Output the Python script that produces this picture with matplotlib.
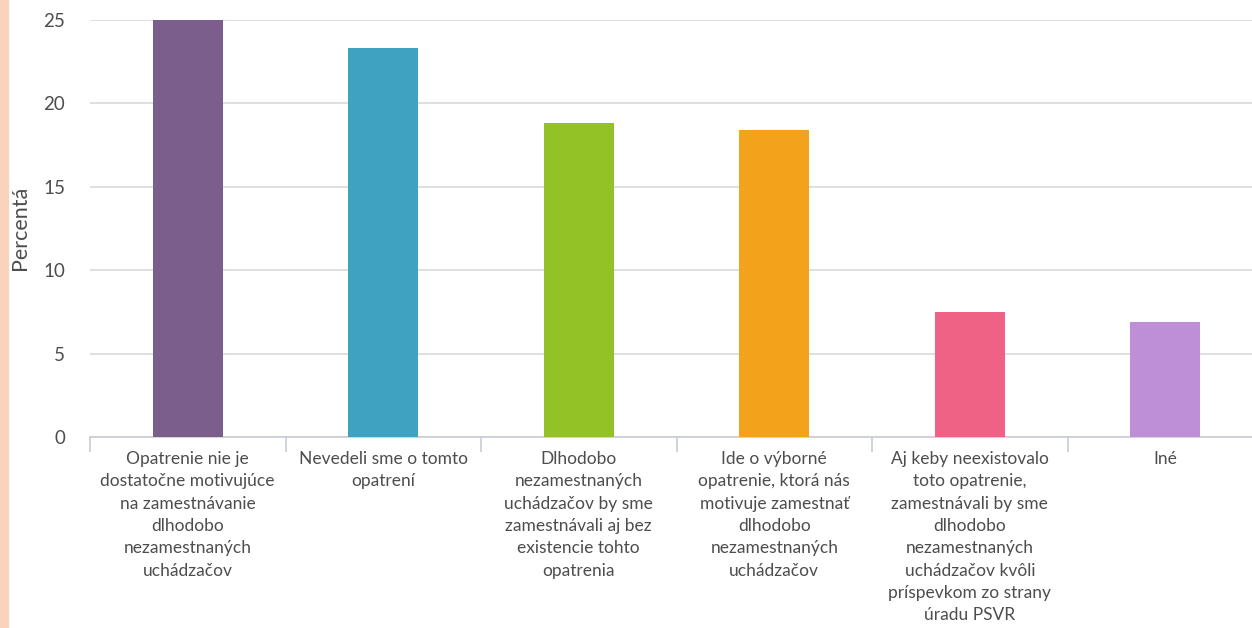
import numpy as np
import matplotlib.pyplot as plt
from matplotlib.patches import Rectangle

plt.rcParams['font.family'] = ['Lato', 'DejaVu Sans']

# Údaje
kategorie = [
    "Opatrenie nie je\ndostatočne motivujúce\nna zamestnávanie\ndlhodobo\nnezamestnaných\nuchádzačov",
    "Nevedeli sme o tomto\nopatrení",
    "Dlhodobo\nnezamestnaných\nuchádzačov by sme\nzamestnávali aj bez\nexistencie tohto\nopatrenia",
    "Ide o výborné\nopatrenie, ktorá nás\nmotivuje zamestnať\ndlhodobo\nnezamestnaných\nuchádzačov",
    "Aj keby neexistovalo\ntoto opatrenie,\nzamestnávali by sme\ndlhodobo\nnezamestnaných\nuchádzačov kvôli\npríspevkom zo strany\núradu PSVR",
    "Iné",
]
hodnoty = [25.0, 23.3, 18.8, 18.4, 7.5, 6.9]
farby = ["#7b5e8c", "#3fa2c0", "#93c227", "#f3a21c", "#ef6285", "#be8fd6"]
y_ticks = [0, 5, 10, 15, 20, 25]

W, H = 1252, 628
fig = plt.figure(figsize=(W/100, H/100), dpi=100)
ax = fig.add_axes([90/W, 1 - 437/H, 1173/W, 417/H])

x = np.arange(len(hodnoty))
ax.bar(x, hodnoty, width=0.36, color=farby, zorder=3)

ax.set_xlim(-0.5, len(hodnoty) - 0.5)
ax.set_ylim(0, 25)
ax.set_yticks(y_ticks)
ax.yaxis.grid(True, color="#d9d9d9", linewidth=1.2, zorder=0)
ax.set_axisbelow(True)

for s in ["top", "right", "left"]:
    ax.spines[s].set_visible(False)
ax.spines["bottom"].set_color("#c9ccd6")
ax.spines["bottom"].set_linewidth(1.2)

ax.set_xticks(x)
ax.set_xticklabels(kategorie, fontsize=12.5, color="#4d4d4d", linespacing=1.49, va="top")
ax.tick_params(axis="x", length=0, pad=10)
ax.set_xticks(np.arange(len(hodnoty)) - 0.5, minor=True)
ax.tick_params(axis="x", which="minor", length=11, color="#c9ccd6", width=1.2)
ax.tick_params(axis="y", length=0, pad=18, labelsize=13.5, labelcolor="#4d4d4d")

fig.text(20/W, 1 - 228/H, "Percentá", rotation=90, ha="center", va="center",
         fontsize=15.5, color="#4d4d4d")

# okraj vľavo
fig.patches.append(Rectangle((0, 0), 8/W, 1, transform=fig.transFigure,
                             color="#fbd3bd", zorder=0))

fig.savefig("out.png", dpi=100)
